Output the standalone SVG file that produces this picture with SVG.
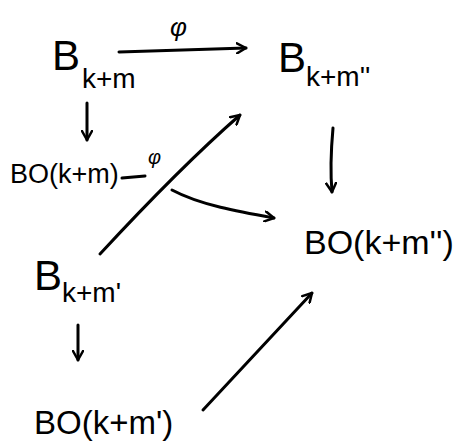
<svg xmlns="http://www.w3.org/2000/svg" width="470" height="445" viewBox="0 0 470 445">
<defs>
<style>
.t{font-family:"Liberation Sans",Arial,sans-serif;fill:#000}
.b{font-size:42px}
.s{font-size:28px}
.e{fill:none;stroke:#000;stroke-width:3;stroke-linecap:round;stroke-linejoin:round}
</style>
<marker id="ah" viewBox="0 0 12 12" refX="10" refY="6" markerWidth="12" markerHeight="12" markerUnits="userSpaceOnUse" orient="auto">
<path d="M1 1 L10 6 L1 11" fill="none" stroke="#000" stroke-width="2.5" stroke-linecap="round" stroke-linejoin="round"/>
</marker>
</defs>
<rect width="470" height="445" fill="#fff"/>
<g id="connectors">
<path class="e" d="M119 52 L246 48" marker-end="url(#ah)"/>
<path class="e" d="M87 103 L87 140" marker-end="url(#ah)"/>
<path class="e" d="M122 178 L145 176"/>
<path class="e" d="M100 254 C150 200 200 150 240 115" marker-end="url(#ah)"/>
<path class="e" d="M172 190 C200 205 240 212 274 218" marker-end="url(#ah)"/>
<path class="e" d="M333 128 C331 150 330 170 332 192" marker-end="url(#ah)"/>
<path class="e" d="M78 325 L78 360" marker-end="url(#ah)"/>
<path class="e" d="M203 410 L312 293" marker-end="url(#ah)"/>
</g>
<g id="labels">
<text class="t" x="170" y="36" font-size="26" font-style="italic">φ</text>
<text class="t" x="148" y="164" font-size="20" font-style="italic">φ</text>
</g>
<g id="n1"><text class="t b" x="52" y="70">B</text><text class="t s" x="82" y="88">k+m</text></g>
<g id="n2"><text class="t b" x="278" y="72">B</text><text class="t s" x="306" y="86">k+m''</text></g>
<g id="n3"><text class="t" x="10" y="183" font-size="27">BO(k+m)</text></g>
<g id="n4"><text class="t" x="304" y="254" font-size="34">BO(k+m'')</text></g>
<g id="n5"><text class="t b" x="34" y="290">B</text><text class="t s" x="62" y="302">k+m'</text></g>
<g id="n6"><text class="t" x="34" y="434" font-size="33">BO(k+m')</text></g>
</svg>
